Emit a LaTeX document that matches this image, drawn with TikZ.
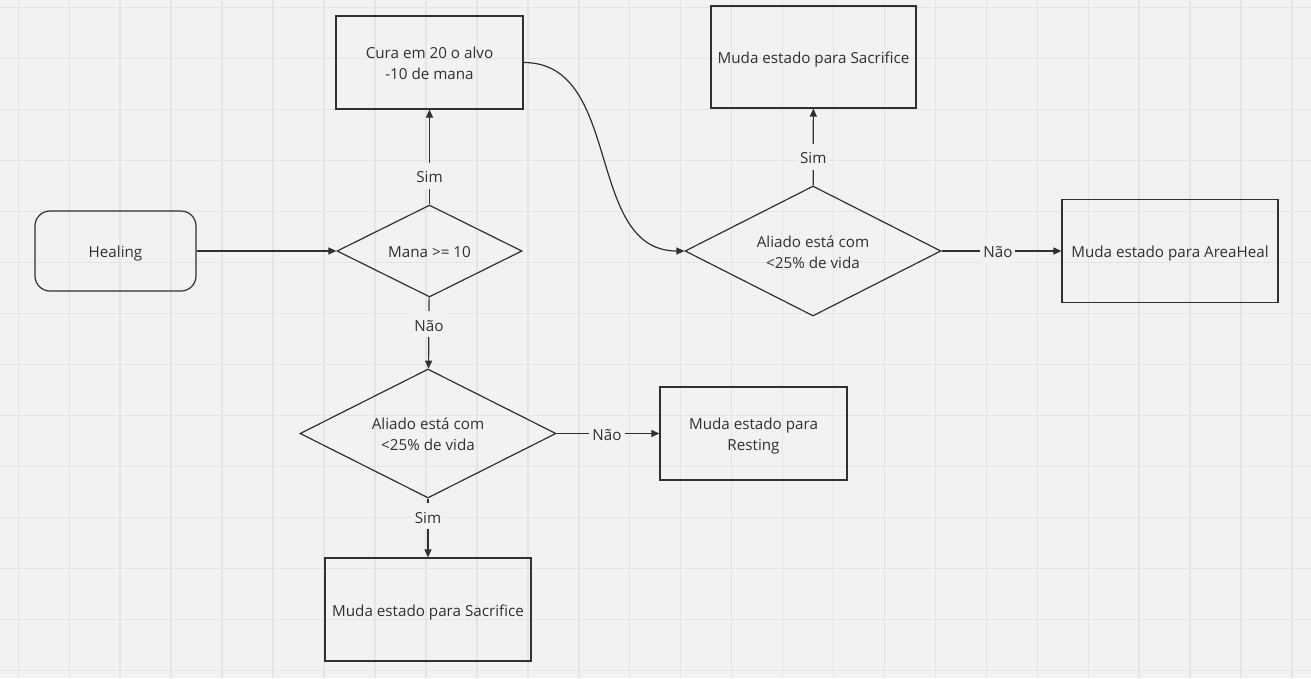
\documentclass[tikz,border=0pt]{standalone}
\usepackage{fontspec}
\setmainfont{Open Sans}
\usetikzlibrary{shapes.geometric,arrows.meta}
\definecolor{bg}{HTML}{F2F2F2}
\definecolor{gridc}{HTML}{E4E4E4}
\definecolor{ink}{HTML}{303030}
\newcommand\lnstrut{\rule[-3.2pt]{0pt}{20.2pt}}
\begin{document}
\begin{tikzpicture}[x=1pt,y=-1pt,
 every node/.style={font=\fontsize{15.2}{21}\selectfont, text=ink},
 box/.style={draw=ink, line width=1.2pt, align=center, inner sep=0pt},
 dec/.style={diamond, draw=ink, line width=1.2pt, align=center, inner sep=0pt, aspect=2},
 conn/.style={draw=ink, line width=1.2pt, -{Triangle[length=8pt,width=7pt]}},
 lbl/.style={fill=bg, inner sep=3pt}]
\useasboundingbox (0,0) rectangle (1311,678);
\fill[bg] (0,0) rectangle (1311,678);
\foreach \i in {0,...,25} \draw[gridc, line width=1.5pt] ({18.3+50.95*\i},0) -- ++(0,678);
\foreach \j in {0,...,13} \draw[gridc, line width=1.5pt] (0,{7.3+51*\j}) -- ++(1311,0);

\node[box, rounded corners=15pt, minimum width=161pt, minimum height=80pt] (heal) at (115.5,251) {\lnstrut Healing};
\node[box, minimum width=187pt, minimum height=93pt] (cura) at (429.5,62.5) {\lnstrut Cura em 20 o alvo\\\lnstrut -10 de mana};
\node[dec, minimum width=185pt, minimum height=92pt] (mana) at (429.5,251) {\lnstrut Mana >= 10};
\node[dec, minimum width=256pt, minimum height=129pt] (al1) at (428,433.5) {\lnstrut Aliado está com\\\lnstrut <25\% de vida};
\node[box, minimum width=187pt, minimum height=93pt] (rest) at (753.5,433.5) {\lnstrut Muda estado para\\\lnstrut Resting};
\node[box, minimum width=206pt, minimum height=103pt] (sac1) at (428,609.5) {\lnstrut Muda estado para Sacrifice};
\node[dec, minimum width=256pt, minimum height=130pt] (al2) at (813,251) {\lnstrut Aliado está com\\\lnstrut <25\% de vida};
\node[box, minimum width=205pt, minimum height=102pt] (sac2) at (813.5,57) {\lnstrut Muda estado para Sacrifice};
\node[box, minimum width=216pt, minimum height=103pt] (area) at (1170,251) {\lnstrut Muda estado para AreaHeal};

\draw[conn] (heal) -- (mana);
\draw[conn] (mana) -- node[lbl, pos=0.3]{\lnstrut Sim} (cura);
\draw[conn] (mana) -- node[lbl, pos=0.375]{\lnstrut Não} (al1);
\draw[conn] (al1) -- node[lbl, pos=0.49]{\lnstrut Não} (rest);
\draw[conn] (al1) -- node[lbl, pos=0.3]{\lnstrut Sim} (sac1);
\draw[conn] (al2) -- node[lbl, pos=0.37]{\lnstrut Sim} (sac2);
\draw[conn] (al2) -- node[lbl, pos=0.47]{\lnstrut Não} (area);
\draw[conn] (cura.east) .. controls +(100,0) and +(-100,0) .. (al2.west);
\end{tikzpicture}
\end{document}
